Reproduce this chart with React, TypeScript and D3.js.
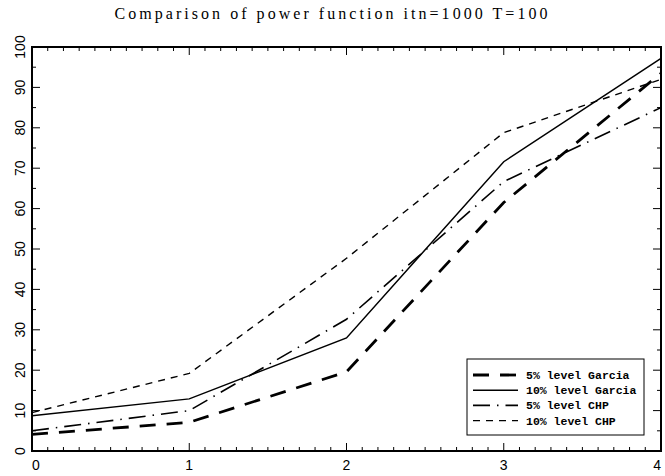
import * as d3 from 'd3'

const xValues = [0, 1, 2, 3, 4]
const garcia5 = [4.1, 7.1, 19.6, 61.5, 93.5]
const garcia10 = [8.7, 12.9, 28.0, 71.6, 97.2]
const chp5 = [5.0, 10.0, 32.6, 66.7, 85.0]
const chp10 = [9.5, 19.2, 47.7, 78.8, 92.0]

const xTicks = [0, 1, 2, 3, 4]
const yTicks = [0, 10, 20, 30, 40, 50, 60, 70, 80, 90, 100]
const legendLabels = ['5% level Garcia', '10% level Garcia', '5% level CHP', '10% level CHP']
const title = 'Comparison of power function itn=1000 T=100'

type Series = { key: string; values: number[]; dash: string; width: number }

const series: Series[] = [
  { key: legendLabels[0], values: garcia5, dash: '16,11', width: 2.8 },
  { key: legendLabels[1], values: garcia10, dash: '', width: 1.5 },
  { key: legendLabels[2], values: chp5, dash: '17,7,1.5,7', width: 1.6 },
  { key: legendLabels[3], values: chp10, dash: '7,6', width: 1.4 },
]

export default function App() {
  const width = 665
  const height = 476
  const margin = { top: 47, right: 4, bottom: 25, left: 32 }

  const x = d3
    .scaleLinear()
    .domain([0, 4])
    .range([margin.left, width - margin.right])
  const y = d3
    .scaleLinear()
    .domain([0, 100])
    .range([height - margin.bottom, margin.top])

  const line = d3
    .line<number>()
    .x((_, i) => x(xValues[i]))
    .y((d) => y(d))

  const x0 = x.range()[0]
  const x1 = x.range()[1]
  const yb = y.range()[0]
  const yt = y.range()[1]

  const xMinor = d3.range(0, 40.5).map((i) => i / 10)
  const yMinor = d3.range(0, 100.5, 5)

  const legend = { x: 467, y: 359, w: 177, h: 76, row: 15.2 }

  return (
    <svg
      width={width}
      height={height}
      style={{ position: 'absolute', left: 0, top: 0, background: '#fff' }}
    >
      <rect width={width} height={height} fill="#fff" />
      <text
        x={331}
        y={19}
        textAnchor="middle"
        fontFamily="Liberation Serif, serif"
        fontSize={16}
        textLength={433}
        lengthAdjust="spacing"
      >
        {title}
      </text>

      {/* ticks on all four sides */}
      <g stroke="#000" strokeWidth={1}>
        {xMinor.map((v) => {
          const major = Math.abs(v - Math.round(v)) < 1e-6
          const len = major ? 8 : 4
          return (
            <g key={`xt${v}`}>
              <line x1={x(v)} x2={x(v)} y1={yb} y2={yb - len} />
              <line x1={x(v)} x2={x(v)} y1={yt} y2={yt + len} />
            </g>
          )
        })}
        {yMinor.map((v) => {
          const major = v % 10 === 0
          const len = major ? 8 : 4
          return (
            <g key={`yt${v}`}>
              <line x1={x0} x2={x0 + len} y1={y(v)} y2={y(v)} />
              <line x1={x1} x2={x1 - len} y1={y(v)} y2={y(v)} />
            </g>
          )
        })}
      </g>

      {series.map((s) => (
        <path
          key={s.key}
          d={line(s.values) ?? undefined}
          fill="none"
          stroke="#000"
          strokeWidth={s.width}
          strokeDasharray={s.dash || undefined}
        />
      ))}

      <rect x={x0} y={yt} width={x1 - x0} height={yb - yt} fill="none" stroke="#000" strokeWidth={2} />

      <g fontFamily="Liberation Sans, Arial, sans-serif" fontSize={14} fill="#000">
        {xTicks.map((v, i) => (
          <text
            key={`xl${v}`}
            x={x(v)}
            y={470}
            textAnchor={i === 0 ? 'start' : i === xTicks.length - 1 ? 'end' : 'middle'}
          >
            {v}
          </text>
        ))}
        {yTicks.map((v) => (
          <text key={`yl${v}`} transform={`translate(25,${y(v)}) rotate(-90)`} textAnchor="middle">
            {v}
          </text>
        ))}
      </g>

      <g>
        <rect x={legend.x} y={legend.y} width={legend.w} height={legend.h} fill="#fff" stroke="#000" strokeWidth={1} />
        {series.map((s, i) => {
          const ly = legend.y + 16 + i * legend.row
          return (
            <g key={`lg${s.key}`}>
              <line
                x1={legend.x + 6}
                x2={legend.x + 51}
                y1={ly}
                y2={ly}
                stroke="#000"
                strokeWidth={s.width}
                strokeDasharray={s.dash || undefined}
              />
              <text
                x={legend.x + 59}
                y={ly + 4}
                fontFamily="Liberation Mono, monospace"
                fontSize={11.5}
                fontWeight="bold"
                textLength={s.key.length * 6.9}
                lengthAdjust="spacing"
              >
                {s.key}
              </text>
            </g>
          )
        })}
      </g>
    </svg>
  )
}
